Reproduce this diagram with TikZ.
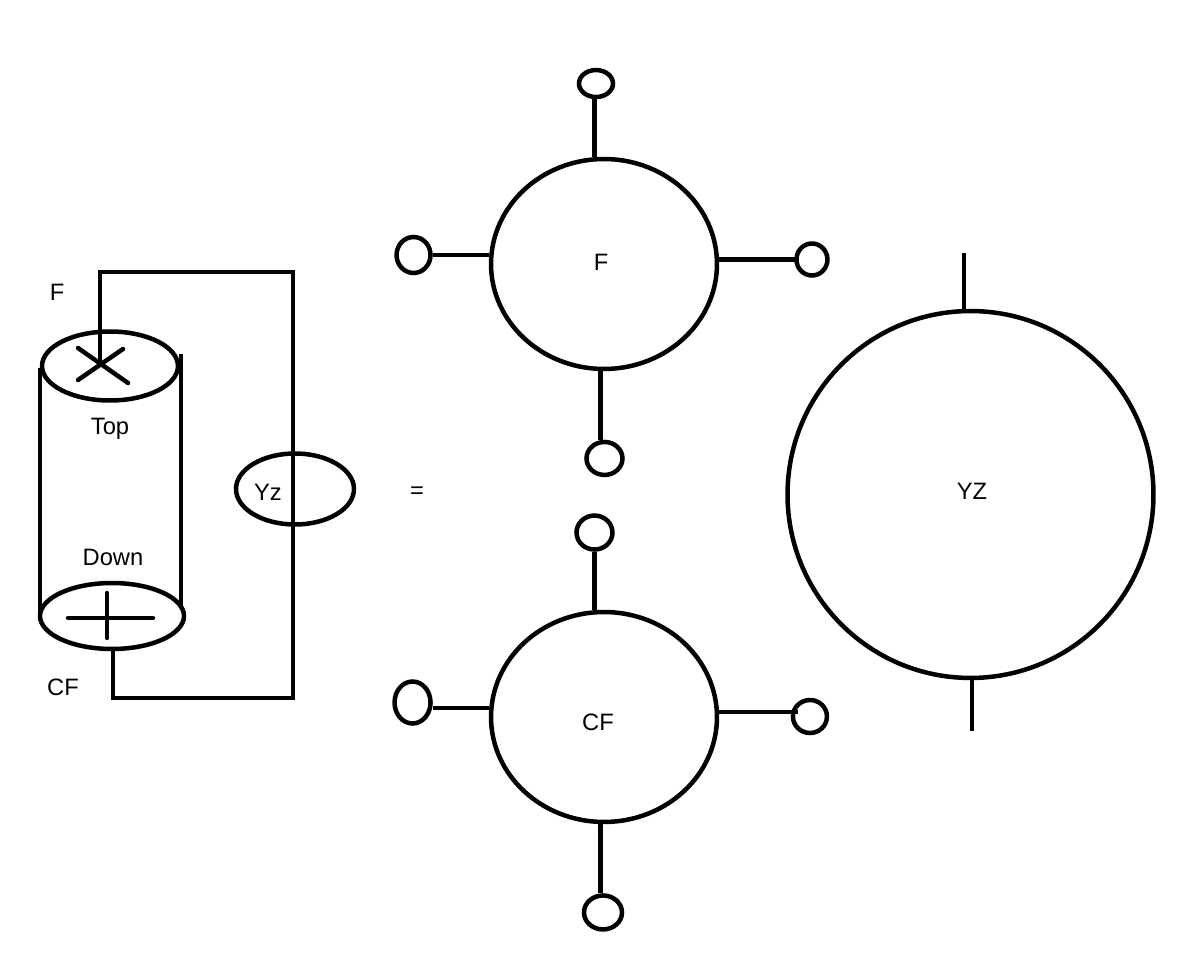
\documentclass[tikz,border=0pt]{standalone}
\usepackage{fontspec}
\setmainfont{Liberation Sans}
\usetikzlibrary{shapes.geometric}
\begin{document}
\begin{tikzpicture}[
  x=0.02cm, y=-0.02cm,
  wire/.style={line width=0.09cm},
  stroke/.style={line width=0.09cm, line cap=round},
  blob/.style={ellipse, draw, line width=0.09cm, inner sep=0pt, minimum width=4.52cm, minimum height=4.2cm},
  pad/.style={ellipse, draw, line width=0.09cm, inner sep=0pt},
  font=\fontsize{13.5pt}{15pt}\selectfont
]
\useasboundingbox (0,0) rectangle (1198,959);
% cylinder
\node[pad, minimum width=2.72cm, minimum height=1.38cm] (top) at (110,366) {};
\node[pad, minimum width=2.88cm, minimum height=1.32cm] (down) at (112,616) {};
\node[pad, minimum width=2.36cm, minimum height=1.42cm] (yz) at (295,489) {};
\coordinate (sideL) at (40,368);
\coordinate (sideR) at (181,354);
\coordinate (start) at (100,363);
\draw[wire] (sideL) -- (sideL |- down.west);
\draw[wire] (sideR) -- (181,608);
\draw[stroke] (78,348) -- (128,383);
\draw[stroke] (78,380) -- (123,349);
\draw[stroke] (68,618) -- (153,618);
\draw[stroke] (107,593) -- (107,638);
\draw[wire] (start) -- (100,272) -- (293,272) -- (293,698) -- (113,698) -- (113,649);
\node at (57,292) {F};
\node at (110,429) {Top};
\node at (113,557) {Down};
\node at (63,687) {CF};
\node at (268,492) {Yz};
\node at (417,493) {=};

% F
\node[blob] (fc) at (604,264) {};
\node at (601,262) {F};
\node[pad, above of=fc, node distance=3.61cm, xshift=-0.16cm, minimum width=0.68cm, minimum height=0.54cm] (ft) {};
\node[pad, left of=fc, node distance=3.81cm, yshift=0.18cm, minimum width=0.68cm, minimum height=0.72cm] (fl) {};
\node[pad, right of=fc, node distance=4.16cm, yshift=0.09cm, minimum width=0.62cm, minimum height=0.64cm] (fr) {};
\node[pad, below of=fc, node distance=3.89cm, xshift=0.01cm, minimum width=0.72cm, minimum height=0.66cm] (fb) {};
\draw[wire] ([xshift=-0.03cm]ft.south) -- ([xshift=-0.03cm]ft.south |- fc.north);
\draw[wire] (fl.east) -- (fl.east -| fc.west);
\draw[wire] ([xshift=0.06cm]fr.west) -- (fr.west -| fc.east);
\draw[wire] ([xshift=-0.08cm]fb.north) -- ([xshift=-0.08cm]fb.north |- fc.south);

% CF
\node[blob] (cc) at (604,717) {};
\node at (598,722) {CF};
\node[pad, above of=cc, node distance=3.69cm, xshift=-0.19cm, minimum width=0.72cm, minimum height=0.68cm] (ct) {};
\node[pad, left of=cc, node distance=3.83cm, yshift=0.29cm, minimum width=0.72cm, minimum height=0.84cm] (cl) {};
\node[pad, right of=cc, node distance=4.12cm, yshift=0.01cm, minimum width=0.68cm, minimum height=0.66cm] (cr) {};
\node[pad, below of=cc, node distance=3.91cm, xshift=-0.02cm, minimum width=0.76cm, minimum height=0.68cm] (cb) {};
\draw[wire] (ct.south) -- (ct.south |- cc.north);
\draw[wire] ([yshift=-0.11cm]cl.east) -- ([yshift=-0.11cm]cl.east -| cc.west);
\draw[wire] ([xshift=0.14cm,yshift=0.09cm]cr.west) -- ([yshift=0.09cm]cr.west -| cc.east);
\draw[wire] ([xshift=-0.05cm]cb.north) -- ([xshift=-0.05cm]cb.north |- cc.south);

% YZ
\node[pad, minimum width=7.32cm, minimum height=7.34cm] (big) at (970.5,494.5) {};
\node at (972,491) {YZ};
\coordinate (bigup) at (964,253);
\coordinate (bigdn) at (972,731);
\draw[wire] (bigup) -- (bigup |- big.north);
\draw[wire] (bigdn) -- (bigdn |- big.south);
\end{tikzpicture}
\end{document}
